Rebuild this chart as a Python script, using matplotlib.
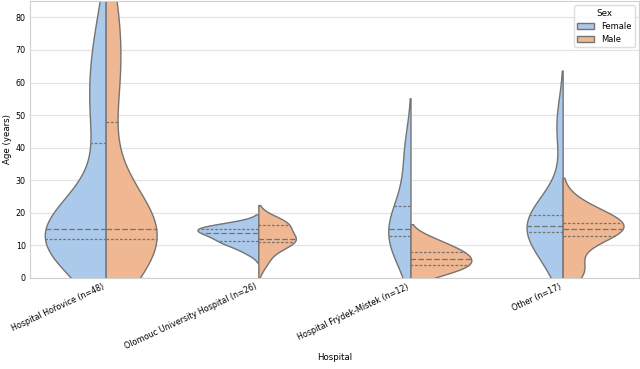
"""Split violins of patient age per hospital and sex (Female left, Male right)."""
import colorsys

import numpy as np
import matplotlib
matplotlib.use("Agg")
import matplotlib.pyplot as plt
from matplotlib.patches import Patch

HOSPITALS = ["Hospital Hořovice (n=48)", "Olomouc University Hospital (n=26)",
             "Hospital Frýdek-Místek (n=12)", "Other (n=17)"]
SEXES = ["Female", "Male"]

# ages (years), estimated from the figure -- one list per hospital/sex
AGE_HOROVICE_F = [7, 9, 10, 11, 11.3, 11.6, 12, 12.3, 12.6, 13, 13.5, 15, 15, 15,
                  15.3, 15.6, 16, 40, 46, 52, 58, 64, 70, 79]
AGE_HOROVICE_M = [6, 9, 10, 11, 11.3, 11.6, 12, 12.3, 12.6, 13, 13.5, 15, 15, 15,
                  15.3, 16, 17.5, 45, 57, 62, 68, 74, 81, 89]
AGE_OLOMOUC_F = [7.9, 10, 11, 11.4, 12.5, 13.5, 14.1, 14.8, 15, 15.4, 15.8, 16.3]
AGE_OLOMOUC_M = [4, 7, 9, 10.8, 11.2, 11.5, 11.8, 12.2, 13, 15.8, 16.2, 16.8,
                 17.2, 17.6]
AGE_FRYDEK_F = [6, 12.5, 14, 16, 24, 39]
AGE_FRYDEK_M = [1.5, 4, 4.4, 7.4, 8.1, 11.5]
AGE_OTHER_F = [4, 11, 15, 15.4, 16.4, 18.5, 22.1, 47]
AGE_OTHER_M = [1.5, 3, 13, 14, 14.9, 15.8, 16.9, 18.5, 22]

# --- style -------------------------------------------------------------------
PASTEL = {"Female": "#a1c9f4", "Male": "#ffb482"}
C_EDGE = (0.453, 0.453, 0.453)
HALF_W = 0.4
DASHES = [(2.2, 1.4), (4.5, 1.8), (2.2, 1.4)]     # Q1, median, Q3


def desat(c, prop=0.75):
    h, l, s = colorsys.rgb_to_hls(*matplotlib.colors.to_rgb(c))
    return colorsys.hls_to_rgb(h, l, s * prop)


def kde(vals, cut=2, gridsize=100):
    x = np.asarray(vals, float)
    bw = x.std(ddof=1) * len(x) ** (-1 / 5)       # scott
    grid = np.linspace(x.min() - cut * bw, x.max() + cut * bw, gridsize)
    dens = np.exp(-0.5 * ((grid[:, None] - x[None, :]) / bw) ** 2).sum(1)
    dens /= len(x) * bw * np.sqrt(2 * np.pi)
    return grid, dens


ages = {
    HOSPITALS[0]: (AGE_HOROVICE_F, AGE_HOROVICE_M),
    HOSPITALS[1]: (AGE_OLOMOUC_F, AGE_OLOMOUC_M),
    HOSPITALS[2]: (AGE_FRYDEK_F, AGE_FRYDEK_M),
    HOSPITALS[3]: (AGE_OTHER_F, AGE_OTHER_M),
}
fill = {s: desat(PASTEL[s]) for s in SEXES}

plt.rcParams["font.family"] = "DejaVu Sans"
fig, ax = plt.subplots(figsize=(6.4, 3.69), dpi=100)
fig.subplots_adjust(left=0.047, right=0.998, top=0.997, bottom=0.247)

for i, hosp in enumerate(HOSPITALS):
    curves = [kde(v) for v in ages[hosp]]
    peak = max(d.max() for _, d in curves)          # area scaled within hospital
    for side, sex, vals, (grid, dens) in zip([-1, 1], SEXES, ages[hosp], curves):
        w = dens / peak * HALF_W
        ax.fill_betweenx(grid, i, i + side * w, facecolor=fill[sex],
                         edgecolor=C_EDGE, linewidth=1.0, zorder=2)
        for q, dash in zip(np.percentile(vals, [25, 50, 75]), DASHES):
            wq = np.interp(q, grid, w)
            ax.plot([i, i + side * wq], [q, q], color=C_EDGE, lw=0.9,
                    dashes=dash, zorder=3)

ax.set_xlim(-0.5, len(HOSPITALS) - 0.5)
ax.set_ylim(0, 85)
ax.set_xticks(range(len(HOSPITALS)))
ax.set_xticklabels(HOSPITALS, rotation=25, ha="right", fontsize=5.8)
ax.set_yticks(range(0, 81, 10))
ax.tick_params(axis="y", labelsize=5.8)
ax.tick_params(length=0, pad=3)
ax.yaxis.grid(True, color="#e3e3e3", lw=0.9)
ax.set_axisbelow(True)
for sp in ax.spines.values():
    sp.set_color("#d0d0d0")
ax.set_xlabel("Hospital", fontsize=6.2, labelpad=1)
ax.set_ylabel("Age (years)", fontsize=6.2, labelpad=3)

handles = [Patch(facecolor=fill[s], edgecolor=C_EDGE, label=s) for s in SEXES]
ax.legend(handles=handles, title="Sex", loc="upper right", fontsize=6,
          title_fontsize=6.3, frameon=True, edgecolor="#d6d6d6", fancybox=True)

fig.savefig("out.png", dpi=100)
